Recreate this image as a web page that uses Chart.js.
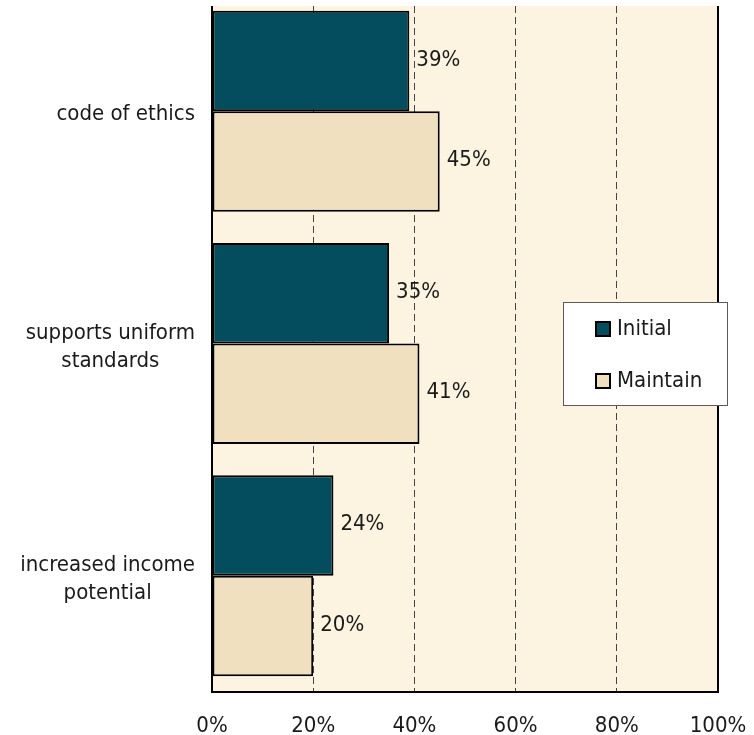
<!DOCTYPE html>
<html>
<head>
<meta charset="utf-8">
<script src="https://cdn.jsdelivr.net/npm/chart.js@4/dist/chart.umd.min.js"></script>
<style>
  html, body { margin: 0; padding: 0; background: #fff; overflow: hidden; width: 754px; height: 735px; }
  #wrap { position: absolute; left: 0; top: -10px; width: 754px; height: 745px; clip-path: inset(16px 0 0 0); }
</style>
</head>
<body>
<div id="wrap"><canvas id="c" width="754" height="745"></canvas></div>
<script>
// Reasons for holding the credential, share of respondents
const categories = [["code of ethics"], ["supports uniform", "standards"], ["increased income", "potential"]];
const initialValues = [39, 35, 24];
const maintainValues = [45, 41, 20];
const seriesNames = ["Initial", "Maintain"];
const xTickValues = [0, 20, 40, 60, 80, 100];

const FONT = '"DejaVu Sans Condensed", "DejaVu Sans", sans-serif';
const FONT_SIZE = 22;
const TEXT = '#1a1a1a';
const SHIFT = 10; // canvas sits 10px above the page top

// cream plot background
const plotBackground = {
  id: 'plotBackground',
  beforeDraw(chart) {
    const { ctx, chartArea: a } = chart;
    ctx.save();
    ctx.fillStyle = '#FCF4E0';
    ctx.fillRect(a.left, a.top, a.right - a.left, a.bottom - a.top);
    ctx.restore();
  }
};

// solid frame: left axis, bottom axis, right edge
const frame = {
  id: 'frame',
  afterDatasetsDraw(chart) {
    const { ctx, chartArea: a } = chart;
    ctx.save();
    ctx.strokeStyle = '#000';
    ctx.lineWidth = 2;
    ctx.beginPath();
    ctx.moveTo(a.left, a.top);
    ctx.lineTo(a.left, a.bottom);
    ctx.lineTo(a.right, a.bottom);
    ctx.lineTo(a.right, a.top);
    ctx.stroke();
    ctx.restore();
  }
};

// value labels, category labels and the boxed legend
const annotations = {
  id: 'annotations',
  afterDraw(chart) {
    const ctx = chart.ctx;
    ctx.save();
    ctx.font = FONT_SIZE + 'px ' + FONT;
    ctx.fillStyle = TEXT;

    // value labels right of each bar
    ctx.textAlign = 'left';
    ctx.textBaseline = 'middle';
    chart.data.datasets.forEach((ds, di) => {
      chart.getDatasetMeta(di).data.forEach((bar, i) => {
        ctx.fillText(ds.data[i] + '%', bar.x + 7, bar.y - 1);
      });
    });

    // category labels: centred lines, block right-aligned to the axis
    const yScale = chart.scales.y;
    ctx.textAlign = 'center';
    ctx.textBaseline = 'alphabetic';
    categories.forEach((lines, i) => {
      const cy = yScale.getPixelForValue(i);
      const w = Math.max(...lines.map(l => ctx.measureText(l).width));
      const cx = 195 - w / 2;
      lines.forEach((l, k) => {
        ctx.fillText(l, cx, cy + 9 + (k - (lines.length - 1) / 2) * 28);
      });
    });

    // legend box
    const bx = 563, by = 302 + SHIFT, bw = 165, bh = 104;
    ctx.fillStyle = '#fff';
    ctx.fillRect(bx, by, bw, bh);
    ctx.strokeStyle = '#5a5a5a';
    ctx.lineWidth = 1;
    ctx.strokeRect(bx + 0.5, by + 0.5, bw - 1, bh - 1);
    ctx.textAlign = 'left';
    ctx.textBaseline = 'middle';
    chart.data.datasets.forEach((ds, di) => {
      const cy = 329 + SHIFT + di * 52;
      ctx.fillStyle = ds.backgroundColor;
      ctx.fillRect(596, cy - 7, 14, 14);
      ctx.strokeStyle = '#000';
      ctx.lineWidth = 2;
      ctx.strokeRect(596, cy - 7, 14, 14);
      ctx.fillStyle = TEXT;
      ctx.fillText(ds.label, 617, cy);
    });
    ctx.restore();
  }
};

new Chart(document.getElementById('c'), {
  type: 'bar',
  data: {
    labels: categories,
    datasets: [
      { label: seriesNames[0], data: initialValues, backgroundColor: '#044D5F' },
      { label: seriesNames[1], data: maintainValues, backgroundColor: '#F0E0C0' }
    ]
  },
  options: {
    indexAxis: 'y',
    responsive: false,
    animation: false,
    events: [],
    layout: { padding: { top: 5, right: 36, bottom: 0, left: 0 } },
    datasets: {
      bar: {
        borderColor: '#000',
        borderWidth: 2,
        borderSkipped: false,
        categoryPercentage: 0.865,
        barPercentage: 1.0
      }
    },
    plugins: { legend: { display: false }, tooltip: { enabled: false } },
    scales: {
      x: {
        min: 0,
        max: 100,
        afterBuildTicks: s => { s.ticks = xTickValues.map(v => ({ value: v })); },
        afterFit: s => { s.height = 43; s.paddingLeft = 0; s.paddingRight = 0; },
        ticks: {
          callback: v => v + '%',
          font: { family: FONT, size: FONT_SIZE },
          color: TEXT,
          padding: 21,
          maxRotation: 0
        },
        grid: {
          drawTicks: false,
          lineWidth: 1,
          color: c => (c.tick && (c.tick.value === 0 || c.tick.value === 100)) ? 'rgba(0,0,0,0)' : '#444'
        },
        border: { display: false, dash: [7, 4] }
      },
      y: {
        afterFit: s => { s.width = 212; },
        ticks: { display: false },
        grid: { display: false },
        border: { display: false }
      }
    }
  },
  plugins: [plotBackground, frame, annotations]
});
</script>
</body>
</html>
